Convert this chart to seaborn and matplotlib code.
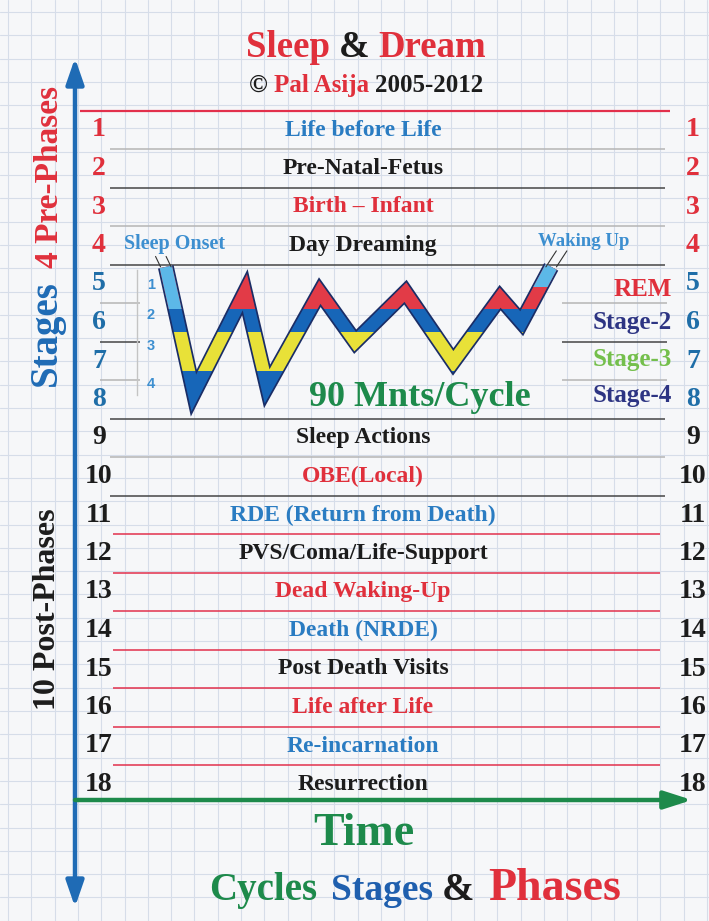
import numpy as np
import pandas as pd
import seaborn as sns
import matplotlib.pyplot as plt
from matplotlib.patches import Rectangle
from matplotlib.transforms import offset_copy

# ---- data -------------------------------------------------------------
row_numbers = list(range(1, 19))
label_rows = [1, 2, 3, 4, 9, 10, 11, 12, 13, 14, 15, 16, 17, 18]
label_texts = ['Life before Life', 'Pre-Natal-Fetus', 'Birth \u2013 Infant', 'Day Dreaming',
               'Sleep Actions', 'OBE(Local)', 'RDE (Return from Death)', 'PVS/Coma/Life-Support',
               'Dead Waking-Up', 'Death (NRDE)', 'Post Death Visits', 'Life after Life',
               'Re-incarnation', 'Resurrection']
label_kinds = ['blue', 'black', 'red', 'black', 'black', 'red', 'blue', 'black',
               'red', 'blue', 'black', 'red', 'blue', 'black']

stage_rows = [5.15, 6, 6.95, 7.9]
stage_names = ['REM', 'Stage-2', 'Stage-3', 'Stage-4']

# sleep cycle (minutes after onset, sleep depth)
cycle_minutes = [1, 35, 97, 124, 188, 231, 292, 350, 407, 433, 469]
cycle_depth = [0.46, 3.9, 1.15, 3.72, 1.15, 2.5, 1.15, 3.05, 1.3, 1.97, 0.46]
depth_levels = ['1', '2', '3', '4']
depth_level_pos = [0.9, 1.72, 2.59, 3.62]
band_edges = [-1.0, 1.6, 2.23, 3.3, 6.0]      # REM | stage-2 | stage-3 | stage-4

sep_rows = [0.5 + i for i in range(18)]
sep_kinds = ['red', 'light', 'dark', 'light', 'dark', 'light', 'dark', 'light', 'dark',
             'light', 'dark', 'red', 'red', 'red', 'red', 'red', 'red', 'red']

# ---- style ------------------------------------------------------------
RED = '#e0303c'
BLUE_TXT = '#2a7cc2'
BLACK = '#1c1c1c'
NUM_BLUE = '#1f6ea8'
AXIS_BLUE = '#1f6bb5'
GREEN = '#1d8a4b'
NAVY = '#2d3483'
LIGHTGREEN = '#74bf4c'
ONSET_BLUE = '#3d8fd0'
txt_colors = {'blue': BLUE_TXT, 'black': BLACK, 'red': RED}
sep_colors = {'red': '#e2304c', 'light': '#b5b5b5', 'dark': '#454545'}
band_colors = ['#e23b47', '#1766b8', '#e8e138', '#1766b8']
stage_colors = [RED, NAVY, LIGHTGREEN, NAVY]

sns.set_theme(style='white')
plt.rcParams['font.family'] = ['Liberation Serif', 'DejaVu Serif']
plt.rcParams['font.weight'] = 'bold'
FONT = dict(fontweight='bold')

W, H = 709, 921
ROW0, ROWH = 130, 38.5


def R(px):
    return 1 + (px - ROW0) / ROWH


fig = plt.figure(figsize=(W / 100, H / 100), dpi=100)
fig.patch.set_facecolor('#f6f7f9')

# graph paper
bg = fig.add_axes([0, 0, 1, 1], zorder=0)
bg.set_xlim(0, W)
bg.set_ylim(H, 0)
bg.set_facecolor('#f6f7f9')
bg.set_xticks(np.arange(8, W, 23.3))
bg.set_yticks(np.arange(12, H, 23.3))
bg.grid(True, color='#d6dde9', lw=0.8)
bg.tick_params(length=0, labelbottom=False, labelleft=False)
for s in bg.spines.values():
    s.set_visible(False)

ax = fig.add_axes([0, 0, 1, 1], zorder=1)
ax.set_facecolor('none')
ax.set_xlim(0, W)
ax.set_ylim(R(H), R(0))
ax.axis('off')


def colored_line(xc, y, parts):
    # pieces of differently coloured text sharing one baseline, centred on xc
    texts = [ax.text(xc, y, s, color=c, fontsize=fs, ha='left', va='baseline', **FONT)
             for s, c, fs, gap in parts]
    fig.canvas.draw()
    r = fig.canvas.get_renderer()
    widths = [t.get_window_extent(r).width for t in texts]
    gaps = [0] + [p[3] * 100 / 72 for p in parts[1:]]
    total = sum(widths) + sum(gaps)
    x0, y0 = ax.transData.transform((xc, y))
    cur = x0 - total / 2
    inv = ax.transData.inverted()
    for t, w, g in zip(texts, widths, gaps):
        cur += g
        t.set_position(inv.transform((cur, y0)))
        cur += w


# titles
colored_line(366, R(57), [('Sleep', RED, 26.5, 0), ('&', BLACK, 26.5, 6.5), ('Dream', RED, 26.5, 6.5)])
colored_line(366, R(92), [('\u00a9', BLACK, 18, 0), ('Pal Asija', RED, 18, 4.5), ('2005-2012', BLACK, 18, 4.5)])

# row separators
for r, k in zip(sep_rows, sep_kinds):
    if r == 0.5:
        ax.hlines(r, 80, 670, color=sep_colors[k], lw=1.6)
    elif 5 < r < 8:
        ax.hlines(r, 100, 140, color=sep_colors[k], lw=1.1)
        ax.hlines(r, 562, 667, color=sep_colors[k], lw=1.1)
    elif r > 11:
        ax.hlines(r, 113, 660, color=sep_colors[k], lw=1.1)
    else:
        ax.hlines(r, 110, 665, color=sep_colors[k], lw=1.1)

# row numbers both sides
for n in row_numbers:
    c = RED if n <= 4 else (NUM_BLUE if n <= 8 else BLACK)
    ax.text(99, n, str(n), color=c, fontsize=20, ha='center', va='center', **FONT)
    ax.text(693, n, str(n), color=c, fontsize=20, ha='center', va='center', **FONT)

# phase labels
for r, s, k in zip(label_rows, label_texts, label_kinds):
    ax.text(363, r, s, color=txt_colors[k], fontsize=17, ha='center', va='center', **FONT)

# sleep stage legend on the right
for r, s, c in zip(stage_rows, stage_names, stage_colors):
    ax.text(672, r, s, color=c, fontsize=18, ha='right', va='center', **FONT)

ax.text(420, R(397), '90 Mnts/Cycle', color=GREEN, fontsize=26, ha='center', va='center', **FONT)
ax.text(175, R(244), 'Sleep Onset', color=ONSET_BLUE, fontsize=14.5, ha='center', va='center', **FONT)
ax.text(584, R(241), 'Waking Up', color=ONSET_BLUE, fontsize=13.5, ha='center', va='center', **FONT)

# side titles
ax.text(50, R(177), '4 Pre-Phases', color=RED, fontsize=24, rotation=90, ha='center', va='center', **FONT)
ax.text(46, R(333), 'Stages', color=AXIS_BLUE, fontsize=28, rotation=90, ha='center', va='center', **FONT)
ax.text(48, R(609), '10 Post-Phases', color=BLACK, fontsize=23, rotation=90, ha='center', va='center', **FONT)

# axes arrows
ax.annotate('', xy=(75, R(58)), xytext=(75, R(907)),
            arrowprops=dict(arrowstyle='<|-|>,head_length=1.3,head_width=0.45', lw=3.2,
                            color=AXIS_BLUE, shrinkA=0, shrinkB=0))
ax.annotate('', xy=(692, R(800)), xytext=(75, R(800)),
            arrowprops=dict(arrowstyle='-|>,head_length=1.4,head_width=0.45', lw=3.2,
                            color=GREEN, shrinkA=0, shrinkB=0))

ax.text(364, R(834), 'Time', color=GREEN, fontsize=33, ha='center', va='center', **FONT)
colored_line(415, R(900), [('Cycles', GREEN, 28, 0), ('Stages', '#1f5fae', 27, 10),
                           ('&', BLACK, 28, 6), ('Phases', RED, 33, 10)])

# ---- hypnogram --------------------------------------------------------
ax_h = fig.add_axes([137 / W, 1 - 418 / H, (580 - 137) / W, (418 - 245) / H], zorder=2)
ax_h.set_facecolor('none')
df = pd.DataFrame({'minutes': cycle_minutes, 'depth': cycle_depth})
kw = dict(x='minutes', y='depth', ax=ax_h, sort=False, estimator=None, legend=False,
          solid_joinstyle='miter', solid_capstyle='butt')
sns.lineplot(data=df, color='#1a2d66', linewidth=11.5, **kw)
for lo, hi, c in zip(band_edges[:-1], band_edges[1:], band_colors):
    sns.lineplot(data=df, color=c, linewidth=9, **kw)
    ax_h.lines[-1].set_clip_path(Rectangle((-100, lo), 700, hi - lo, transform=ax_h.transData))
# light blue onset / waking ends
for part, top in [(df.iloc[:2], 1.6), (df.iloc[-2:], 1.0)]:
    sns.lineplot(data=part, color='#5cb8e8', linewidth=9, **kw)
    ax_h.lines[-1].set_clip_path(Rectangle((-100, -1), 700, top + 1, transform=ax_h.transData))

ax_h.set_xlim(-34, 504)
ax_h.set_ylim(4.58, -0.136)
ax_h.set_xlabel('')
ax_h.set_ylabel('')
ax_h.set_xticks([])
ax_h.set_yticks(depth_level_pos)
ax_h.set_yticklabels(depth_levels)
ax_h.tick_params(axis='y', length=0, pad=-13, labelcolor=ONSET_BLUE, labelsize=10.5)
for lab in ax_h.get_yticklabels():
    lab.set_fontfamily('Liberation Sans')
    lab.set_fontweight('bold')
for side in ['top', 'right', 'bottom']:
    ax_h.spines[side].set_visible(False)
ax_h.spines['left'].set_color('#c4c4c4')
ax_h.spines['left'].set_linewidth(1)
ax_h.spines['left'].set_bounds(0.55, 3.95)

# leader lines from the onset / waking labels
for (t, d), (ox, oy) in [((cycle_minutes[0], cycle_depth[0]), (-3.6, 7.5)),
                         ((cycle_minutes[-1], cycle_depth[-1]), (7.5, 11.5))]:
    for dx in (-3.8, 3.8):
        ax_h.annotate('', xy=(t, d), xycoords=offset_copy(ax_h.transData, fig=fig, x=dx, units='points'),
                      xytext=(ox, oy), textcoords='offset points',
                      arrowprops=dict(arrowstyle='-', lw=0.8, color='#333333', shrinkA=0, shrinkB=0))

fig.savefig('out.png', dpi=100, facecolor=fig.get_facecolor())
